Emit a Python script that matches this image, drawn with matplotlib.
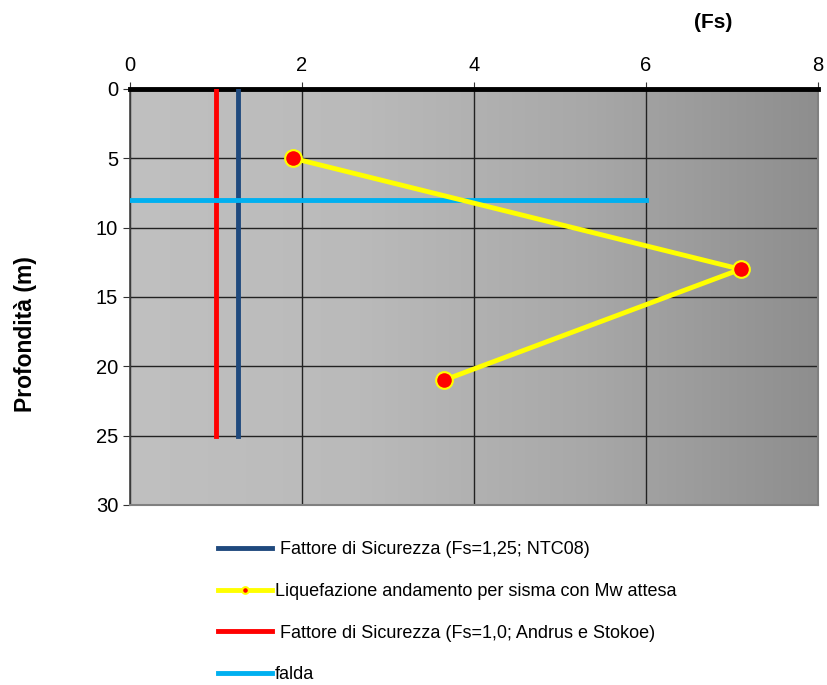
import numpy as np
import matplotlib
matplotlib.use("Agg")
import matplotlib.pyplot as plt
from matplotlib.colors import LinearSegmentedColormap

plt.rcParams['font.family'] = ['Liberation Sans', 'DejaVu Sans']

# Data
liq_fs = [1.9, 7.1, 3.65]
liq_depth = [5, 13, 21]
ntc_fs = [1.25, 1.25]
ntc_depth = [0, 25]
andrus_fs = [1.0, 1.0]
andrus_depth = [0, 25]
falda_fs = [0, 6]
falda_depth = [8, 8]

xticks = [0, 2, 4, 6, 8]
yticks = [0, 5, 10, 15, 20, 25, 30]

fig = plt.figure(figsize=(8.27, 6.85), dpi=100)
ax = fig.add_axes([130/827, 1-505/685, (818-130)/827, (505-89)/685])

cmap = LinearSegmentedColormap.from_list('g', ['#c0c0c0', '#bababa', '#a8a8a8', '#8e8e8e'])
grad = np.linspace(0, 1, 256).reshape(1, -1)
ax.imshow(grad, cmap=cmap, aspect='auto', extent=[0, 8, 30, 0], zorder=0)

ax.set_xlim(0, 8)
ax.set_ylim(30, 0)
ax.xaxis.tick_top()
ax.set_xticks(xticks)
ax.set_yticks(yticks)
ax.tick_params(axis='both', labelsize=14.5, length=5, color='#333333')
ax.tick_params(axis='x', pad=5)
ax.grid(True, color='#222222', linewidth=1.0, zorder=1)

for s in ['bottom', 'right']:
    ax.spines[s].set_color('#808080')
    ax.spines[s].set_linewidth(1.5)
ax.spines['left'].set_color('#404040')
ax.spines['left'].set_linewidth(1.2)
ax.spines['top'].set_color('black')
ax.spines['top'].set_linewidth(3.5)

l1, = ax.plot(ntc_fs, ntc_depth, color='#1f497d', lw=3.5, zorder=3,
              label=' Fattore di Sicurezza (Fs=1,25; NTC08)')
l2, = ax.plot(liq_fs, liq_depth, color='#ffff00', lw=3.5, zorder=4,
              marker='o', markersize=12, markerfacecolor='#ff0000',
              markeredgecolor='#ffff00', markeredgewidth=1.5,
              label='Liquefazione andamento per sisma con Mw attesa')
l3, = ax.plot(andrus_fs, andrus_depth, color='#ff0000', lw=3.5, zorder=3,
              label=' Fattore di Sicurezza (Fs=1,0; Andrus e Stokoe)')
l4, = ax.plot(falda_fs, falda_depth, color='#00b0f0', lw=3.5, zorder=3,
              label='falda')

fig.text(26/827, 1-334/685, 'Profondità (m)', fontsize=16.5, fontweight='bold',
         rotation=90, ha='center', va='center')
fig.text(713/827, 1-22/685, '(Fs)', fontsize=15, fontweight='bold', ha='center', va='center')

leg = fig.legend(handles=[l1, l2, l3, l4], loc='upper left',
                 bbox_to_anchor=(202/827, 1-525/685), frameon=False,
                 fontsize=13, handlelength=2.95, handletextpad=0.2,
                 labelspacing=1.37, markerscale=0.4)

fig.savefig('out.png', dpi=100)
